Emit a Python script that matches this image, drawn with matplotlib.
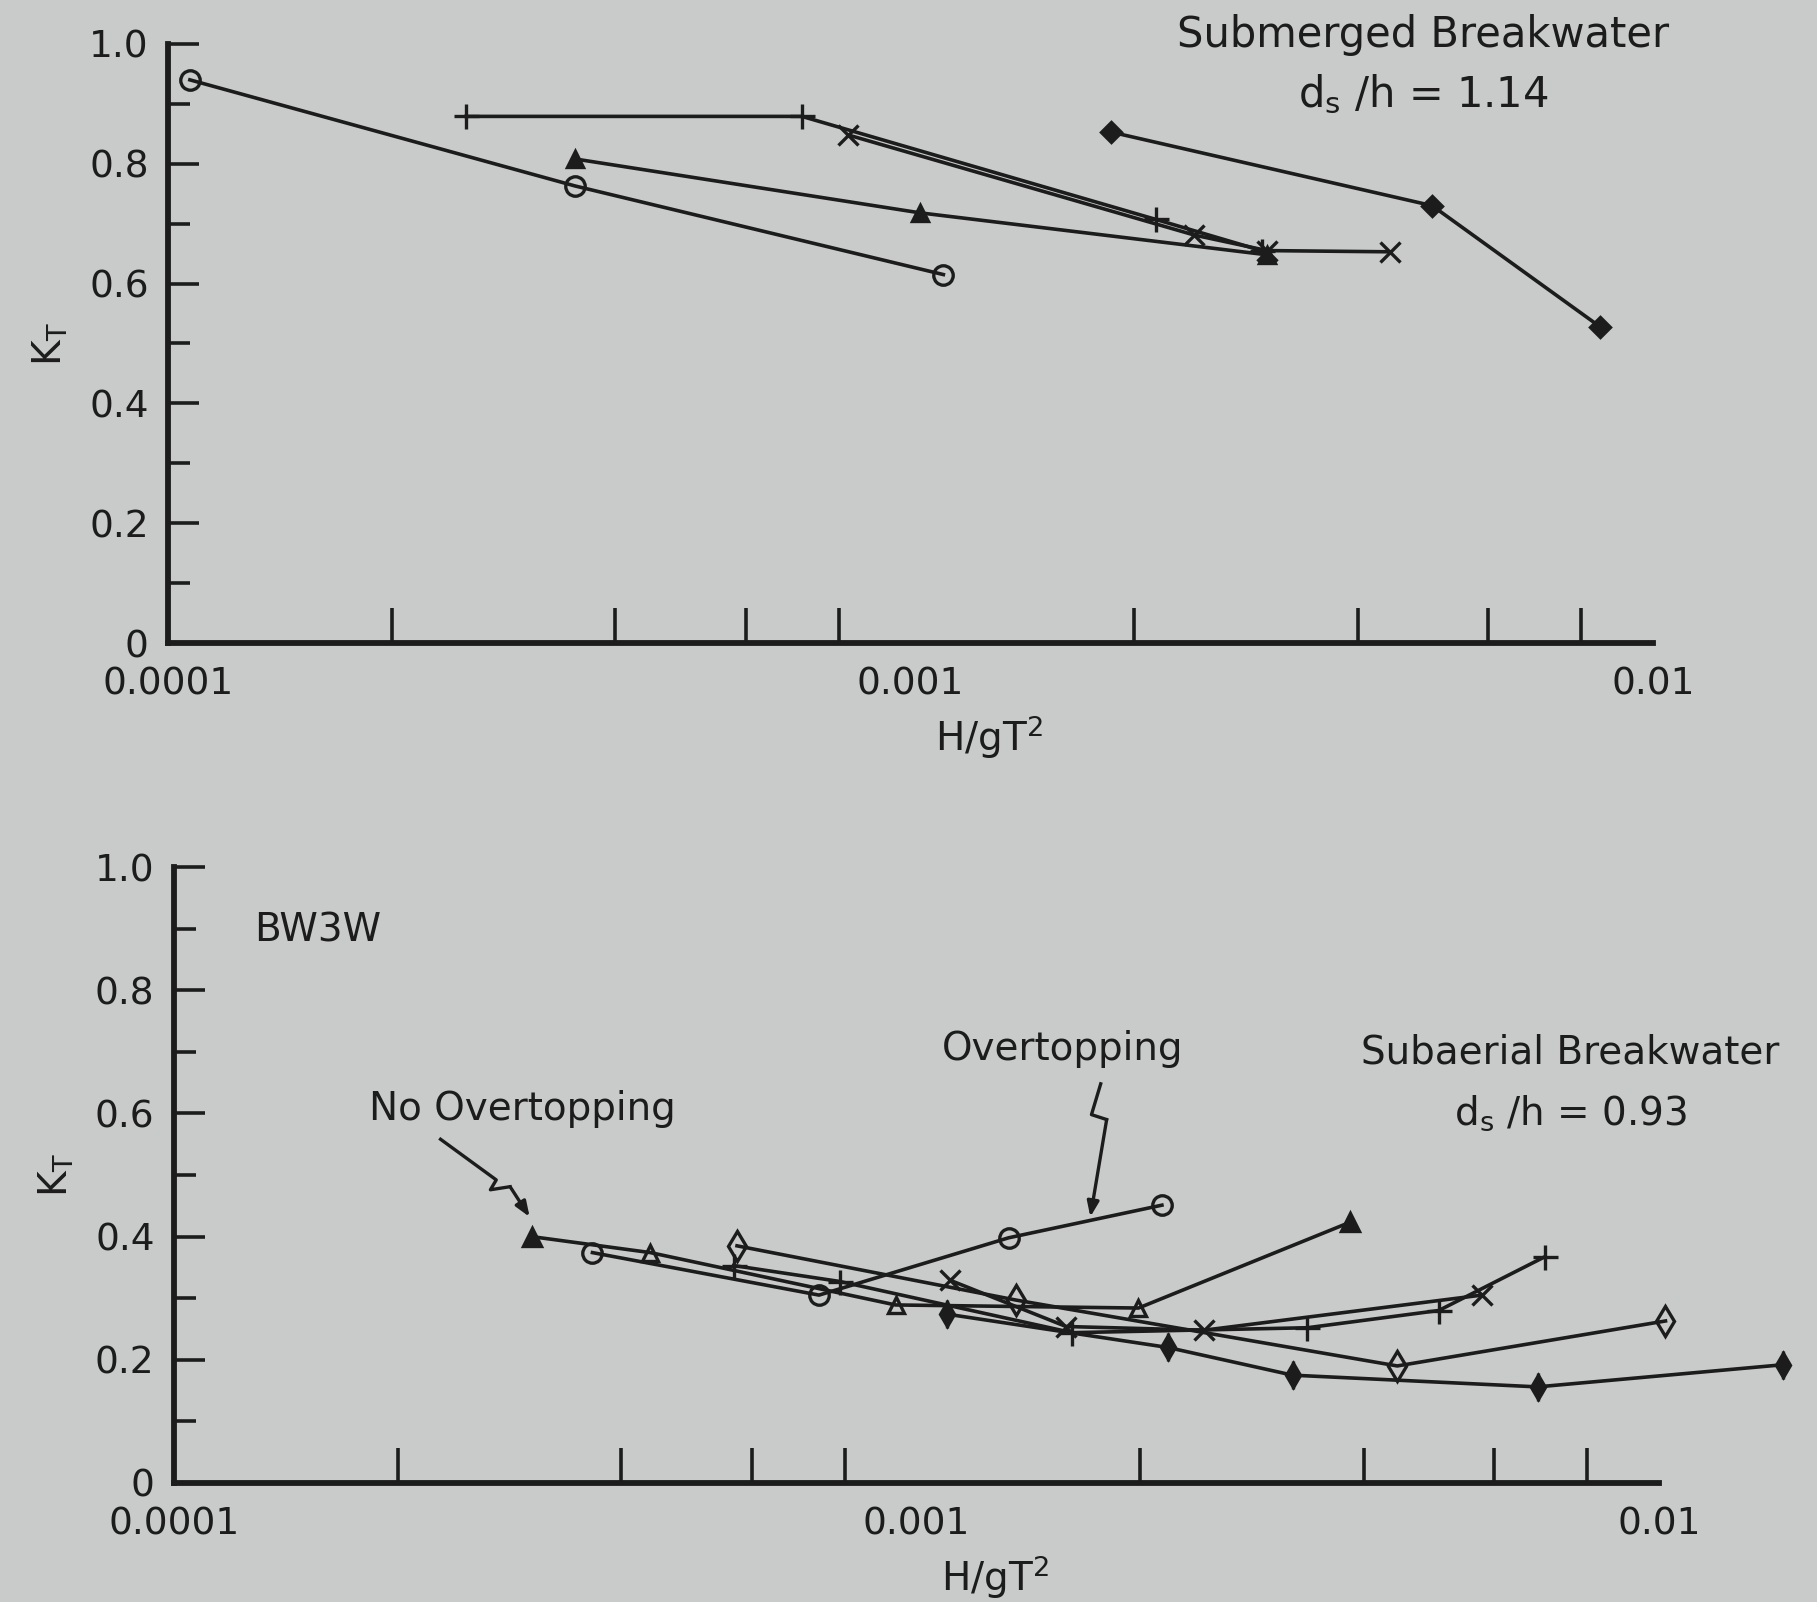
import matplotlib
matplotlib.use('Agg')
import matplotlib.pyplot as plt
from matplotlib.ticker import FixedLocator, NullFormatter

# ---- data: top panel (submerged, ds/h = 1.14) ----
top_circle_x = [1.07e-4, 3.53e-4, 1.107e-3]
top_circle_y = [0.94, 0.763, 0.615]
top_plus_x = [2.52e-4, 7.14e-4, 2.14e-3, 2.97e-3]
top_plus_y = [0.879, 0.879, 0.707, 0.655]
top_cross_x = [8.24e-4, 2.41e-3, 3.02e-3, 4.42e-3]
top_cross_y = [0.848, 0.681, 0.655, 0.653]
top_tri_x = [3.53e-4, 1.03e-3, 3.02e-3]
top_tri_y = [0.808, 0.718, 0.648]
top_diam_x = [1.86e-3, 5.04e-3, 8.48e-3]
top_diam_y = [0.853, 0.730, 0.528]

# ---- data: bottom panel (BW3W, subaerial, ds/h = 0.93) ----
bot_tri_x = [3.03e-4, 4.38e-4, 9.37e-4, 1.99e-3, 3.83e-3]
bot_tri_y = [0.400, 0.374, 0.289, 0.284, 0.423]
bot_circle_x = [3.66e-4, 7.39e-4, 1.33e-3, 2.14e-3]
bot_circle_y = [0.374, 0.305, 0.398, 0.451]
bot_diam_x = [5.73e-4, 1.36e-3, 4.44e-3, 1.02e-2]
bot_diam_y = [0.385, 0.297, 0.190, 0.263]
bot_cross_x = [1.11e-3, 1.59e-3, 2.44e-3, 5.77e-3]
bot_cross_y = [0.329, 0.254, 0.248, 0.305]
bot_plus_x = [5.67e-4, 7.89e-4, 1.62e-3, 3.36e-3, 5.05e-3, 7.01e-3]
bot_plus_y = [0.353, 0.327, 0.244, 0.252, 0.280, 0.367]
bot_low_x = [1.10e-3, 2.18e-3, 3.21e-3, 6.86e-3, 1.47e-2]
bot_low_y = [0.274, 0.220, 0.175, 0.156, 0.192]

x_tick_pos = [2e-4, 4e-4, 6e-4, 8e-4, 1e-3, 2e-3, 4e-3, 6e-3, 8e-3, 1e-2]
x_label_pos = [1e-4, 1e-3, 1e-2]
x_label_txt = ['0.0001', '0.001', '0.01']
y_label_pos = [0, 0.2, 0.4, 0.6, 0.8, 1.0]
y_label_txt = ['0', '0.2', '0.4', '0.6', '0.8', '1.0']

BG = '#c9cbcb'
INK = '#1c1c1c'
XMAX = 10 ** (-4 + 1418 / 641)

plt.rcParams['font.family'] = 'DejaVu Sans'
plt.rcParams['mathtext.fontset'] = 'dejavusans'

fig = plt.figure(figsize=(18.17, 16.02), dpi=100, facecolor=BG)


def style_axes(ax):
    ax.set_facecolor(BG)
    ax.set_xscale('log')
    ax.set_xlim(1e-4, XMAX)
    ax.set_ylim(0, 1.0)
    for s in ['top', 'right']:
        ax.spines[s].set_visible(False)
    for s in ['left', 'bottom']:
        ax.spines[s].set_linewidth(4.2)
        ax.spines[s].set_color(INK)
        ax.spines[s].set_capstyle('projecting')
    ax.spines['bottom'].set_bounds(1e-4, 1e-2)
    ax.spines['left'].set_bounds(0, 1.0)
    # x ticks point up into the plot, labels only at the decades
    ax.xaxis.set_major_locator(FixedLocator(x_label_pos))
    ax.set_xticklabels(x_label_txt)
    ax.xaxis.set_minor_locator(FixedLocator(x_tick_pos))
    ax.xaxis.set_minor_formatter(NullFormatter())
    ax.tick_params(axis='x', which='both', direction='in', length=25, width=2.6,
                   color=INK, labelsize=27, labelcolor=INK, pad=17)
    ax.tick_params(axis='x', which='major', length=0)
    ax.yaxis.set_major_locator(FixedLocator(y_label_pos))
    ax.set_yticklabels(y_label_txt)
    ax.yaxis.set_minor_locator(FixedLocator([0.1, 0.3, 0.5, 0.7, 0.9]))
    ax.tick_params(axis='y', which='major', direction='in', length=22, width=2.6,
                   color=INK, labelsize=27, labelcolor=INK, pad=14)
    ax.tick_params(axis='y', which='minor', direction='in', length=16, width=2.6,
                   color=INK)
    ax.set_xlabel('H/gT$^{2}$', fontsize=28, color=INK, labelpad=8)
    ax.set_ylabel('K$_{\\mathrm{T}}$', fontsize=28, color=INK, labelpad=14)


def series(ax, x, y, marker, ms=13, filled=False, **kw):
    ax.plot(x, y, color=INK, lw=2.6, marker=marker, ms=ms, mew=2.4,
            mec=INK, mfc=INK if filled else 'none', clip_on=False, **kw)


# ---------------- top panel ----------------
ax1 = fig.add_axes([0.0925, 0.5986, 0.904, 0.374])
style_axes(ax1)
series(ax1, top_circle_x, top_circle_y, 'o', ms=14)
series(ax1, top_plus_x, top_plus_y, '+', ms=18)
series(ax1, top_cross_x, top_cross_y, 'x', ms=15)
series(ax1, top_tri_x, top_tri_y, '^', ms=12, filled=True)
series(ax1, top_diam_x, top_diam_y, 'D', ms=10, filled=True)

ax1.text(0.764, 1.015, 'Submerged Breakwater', transform=ax1.transAxes,
         fontsize=30, ha='center', va='center', color=INK)
ax1.text(0.764, 0.915, 'd$_{\\mathrm{s}}$ /h = 1.14', transform=ax1.transAxes,
         fontsize=30, ha='center', va='center', color=INK)

# ---------------- bottom panel ----------------
ax2 = fig.add_axes([0.0958, 0.0743, 0.904, 0.3845])
style_axes(ax2)
ax2.plot(bot_tri_x, bot_tri_y, color=INK, lw=2.6, marker='^', ms=13, mew=2.4,
         mec=INK, mfc=INK, markevery=[0, 4], clip_on=False)
ax2.plot(bot_tri_x, bot_tri_y, ls='none', marker='^', ms=12, mew=2.4,
         mec=INK, mfc='none', markevery=[1, 2, 3], clip_on=False)
series(ax2, bot_circle_x, bot_circle_y, 'o', ms=14)
series(ax2, bot_diam_x, bot_diam_y, 'd', ms=15)
series(ax2, bot_cross_x, bot_cross_y, 'x', ms=15)
series(ax2, bot_plus_x, bot_plus_y, '+', ms=18)
series(ax2, bot_low_x, bot_low_y, 'd', ms=12, filled=True)
ax2.plot(bot_low_x, bot_low_y, ls='none', marker='|', ms=20, mew=2.4,
         color=INK, clip_on=False)

ax2.text(0.049, 0.897, 'BW3W', transform=ax2.transAxes, fontsize=28,
         ha='left', va='center', color=INK)
ax2.text(0.212, 0.607, 'No Overtopping', transform=ax2.transAxes, fontsize=28,
         ha='center', va='center', color=INK)
ax2.text(0.541, 0.705, 'Overtopping', transform=ax2.transAxes, fontsize=28,
         ha='center', va='center', color=INK)
ax2.text(0.850, 0.699, 'Subaerial Breakwater', transform=ax2.transAxes,
         fontsize=28, ha='center', va='center', color=INK)
ax2.text(0.850, 0.601, 'd$_{\\mathrm{s}}$ /h = 0.93', transform=ax2.transAxes,
         fontsize=28, ha='center', va='center', color=INK)

# zig-zag pointer arrows
no_ot_path_x = [2.285e-4, 2.716e-4, 2.667e-4, 2.835e-4]
no_ot_path_y = [0.558, 0.492, 0.476, 0.481]
ax2.plot(no_ot_path_x, no_ot_path_y, color=INK, lw=2.4)
ax2.annotate('', xy=(3.012e-4, 0.432), xytext=(no_ot_path_x[-1], no_ot_path_y[-1]),
             arrowprops=dict(arrowstyle='-|>,head_length=0.9,head_width=0.35',
                             color=INK, lw=2.4, shrinkA=0, shrinkB=0))

ot_path_x = [1.770e-3, 1.720e-3, 1.803e-3]
ot_path_y = [0.648, 0.598, 0.590]
ax2.plot(ot_path_x, ot_path_y, color=INK, lw=2.4)
ax2.annotate('', xy=(1.714e-3, 0.432), xytext=(ot_path_x[-1], ot_path_y[-1]),
             arrowprops=dict(arrowstyle='-|>,head_length=0.9,head_width=0.35',
                             color=INK, lw=2.4, shrinkA=0, shrinkB=0))

fig.savefig('out.png', dpi=100, facecolor=BG)
